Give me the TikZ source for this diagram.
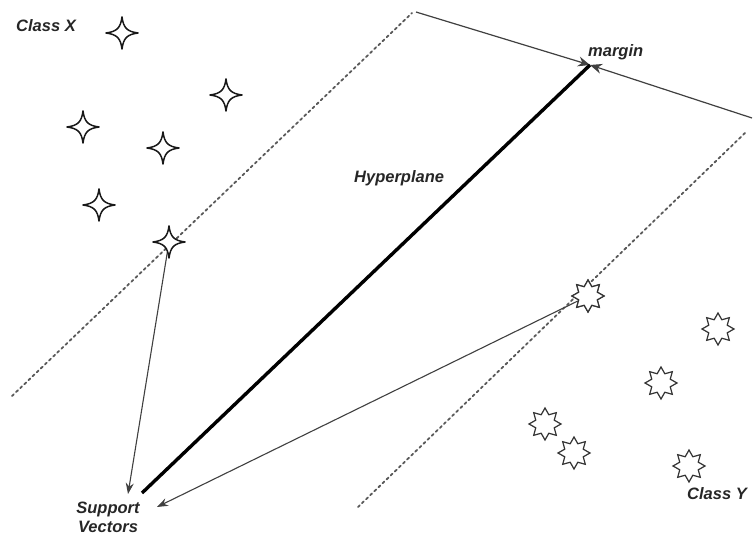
\documentclass[tikz,border=0pt]{standalone}
\usepackage{fontspec}
\setmainfont{Liberation Sans}
\usetikzlibrary{shapes.geometric,arrows.meta}
\begin{document}
\begin{tikzpicture}[x=1pt,y=-1pt,
  lbl/.style={font=\fontsize{16.5}{20}\selectfont\bfseries\itshape, inner sep=0pt, text=black!85},
  thinarrow/.style={draw=black!75, line width=1.1pt, -{Stealth[length=11pt,width=8pt]}},
  marrow/.style={draw=black!75, line width=1.2pt, -{Stealth[length=12pt,width=10pt,inset=4pt]}},
  sepline/.style={draw=black!65, line width=1.8pt, dash pattern=on 2.5pt off 3.2pt, line cap=round},
  ystar/.style={star, star points=8, star point ratio=1.6, minimum size=32pt, draw=black!80, fill=white, line width=1.2pt, inner sep=0pt},
  pics/xstar/.style={code={\draw[line width=1.5pt, draw=black!90, fill=white, line join=round] (0,-16) .. controls (1.5,-5) and (5,-1.5) .. (16,0) .. controls (5,1.5) and (1.5,5) .. (0,16) .. controls (-1.5,5) and (-5,1.5) .. (-16,0) .. controls (-5,-1.5) and (-1.5,-5) .. (0,-16) -- cycle;}}
]
\fill[white] (0,0) rectangle (753,537);
\useasboundingbox (0,0) rectangle (753,537);

% key coordinates
\coordinate (d1a) at (12,396);
\coordinate (d1b) at (412,13);
\coordinate (d2a) at (745,133);
\coordinate (d2b) at (357,508);
\coordinate (mL) at (416,12);
\coordinate (mR) at (752,118);
\coordinate (mM) at (590,65);
\coordinate (hB) at (142,493);
\coordinate (svA) at (128,494);
\coordinate (svB) at (157,507);

% separating (dashed) lines
\draw[sepline] (d1a) -- (d1b);
\draw[sepline] (d2a) -- (d2b);

% margin arrows
\draw[marrow] (mL) -- (mM);
\draw[marrow] (mR) -- (mM);

% hyperplane
\draw[line width=3.4pt, line cap=butt] (hB) -- (mM);

% class X stars (coordinates)
\coordinate (x1) at (122,33);
\coordinate (x2) at (226,95);
\coordinate (x3) at (83,127);
\coordinate (x4) at (163,148);
\coordinate (x5) at (99,205);
\coordinate (x6) at (169,242);

% class Y stars
\node[ystar] (y1) at (588,296) {};
\node[ystar] (y2) at (718,329) {};
\node[ystar] (y3) at (661,383) {};
\node[ystar] (y4) at (545,424) {};
\node[ystar] (y5) at (574,453) {};
\node[ystar] (y6) at (689,466) {};

% support vector arrows
\draw[thinarrow] (x6) -- (svA);
\draw[thinarrow] (y1) -- (svB);

\foreach \c in {x1,x2,x3,x4,x5,x6} { \pic at (\c) {xstar}; }
\node[ystar] at (y1) {};

% labels
\node[lbl, anchor=base west] (cx) at (16,32) {Class X};
\node[lbl, anchor=base west] (cy) at (687,500) {Class Y};
\node[lbl, anchor=base west] (mg) at (588,57) {margin};
\node[lbl, anchor=base west] (hp) at (354,183) {Hyperplane};
\node[lbl, align=center, anchor=north] (sv) at (108,502) {Support\\[-1pt]Vectors};
\end{tikzpicture}
\end{document}
